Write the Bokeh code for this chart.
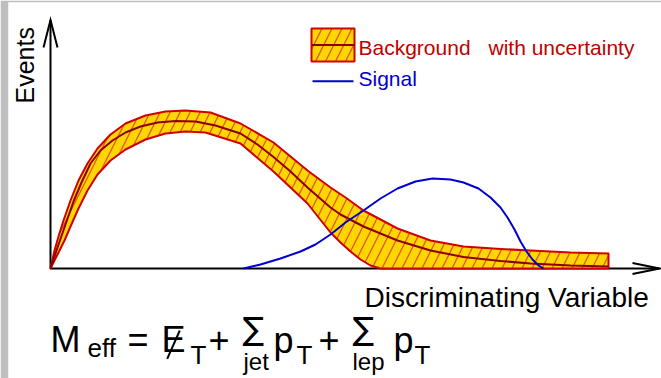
from bokeh.plotting import figure
from bokeh.models import Range1d, Label
from bokeh.embed import file_html
from bokeh.resources import INLINE

# ---- data (x: discriminating variable, y: events, arbitrary units) ----
bkg_x = [0.00, 0.07, 0.15, 0.23, 0.31, 0.40, 0.50, 0.62, 0.75, 0.90, 1.07, 1.25, 1.45,
         1.65, 1.90, 2.07, 2.23, 2.40, 2.57, 2.80, 2.90, 3.13, 3.47, 3.80, 4.13, 4.50,
         4.80, 5.20, 5.58]
bkg_y = [0.0, 2.1, 4.4, 6.7, 8.6, 10.5, 11.8, 12.8, 13.6, 14.2, 14.6, 14.75, 14.7,
         14.3, 13.5, 12.4, 11.15, 9.7, 8.1, 6.1, 5.4, 4.2, 2.8, 1.8, 1.15, 0.75,
         0.5, 0.3, 0.2]

unc_hi_x = [0.00, 0.04, 0.08, 0.13, 0.20, 0.28, 0.37, 0.47, 0.60, 0.75, 0.95, 1.15, 1.35,
            1.60, 1.90, 2.23, 2.57, 2.80, 2.95, 3.13, 3.47, 3.80, 4.13, 4.50, 4.80, 5.20, 5.58]
unc_hi_y = [0.0, 1.8, 3.2, 4.8, 6.8, 8.8, 10.5, 12.0, 13.4, 14.5, 15.3, 15.7, 15.8,
            15.6, 14.5, 12.6, 9.8, 8.1, 7.1, 5.8, 4.0, 2.8, 2.2, 1.95, 1.8, 1.6, 1.5]

unc_lo_x = [0.00, 0.09, 0.14, 0.20, 0.28, 0.37, 0.47, 0.60, 0.75, 0.95, 1.15, 1.35, 1.55,
            1.90, 2.23, 2.57, 2.80, 2.90, 3.00, 3.10, 3.20, 3.30, 5.58]
unc_lo_y = [0.0, 1.8, 2.8, 4.2, 6.0, 7.8, 9.4, 10.8, 11.9, 12.9, 13.5, 13.7, 13.6,
            12.5, 9.7, 6.5, 3.6, 2.6, 1.7, 0.9, 0.3, 0.0, 0.0]

sig_x = [1.93, 2.10, 2.30, 2.50, 2.65, 2.80, 2.95, 3.13, 3.30, 3.47, 3.65, 3.82, 4.00,
         4.13, 4.28, 4.40, 4.50, 4.57, 4.64, 4.70, 4.76, 4.82, 4.88, 4.93]
sig_y = [0.0, 0.4, 1.0, 1.7, 2.4, 3.4, 4.6, 5.8, 7.0, 8.0, 8.7, 9.0, 8.9,
         8.6, 8.0, 7.1, 6.1, 5.1, 3.9, 2.7, 1.7, 0.9, 0.3, 0.0]

# ---- page geometry ----
W, H = 661, 378
LEFT, TOP = 8, 2                  # grey margin
X0_PX, Y0_PX = 50, 268            # where the origin sits on the page
PX_PER_X, PX_PER_Y = 100.0, 10.0


def sx(px):
    return (px - X0_PX) / PX_PER_X


def sy(py):
    return (Y0_PX - py) / PX_PER_Y


p = figure(width=W, height=H,
           x_range=Range1d(sx(LEFT), sx(W)), y_range=Range1d(sy(H), sy(TOP)),
           min_border_left=LEFT, min_border_top=TOP, min_border_right=0, min_border_bottom=0,
           x_axis_location=None, y_axis_location=None,
           border_fill_color="#bfbfbf", background_fill_color="white",
           outline_line_color=None, toolbar_location=None, output_backend="svg")
p.grid.visible = False

FONT = "Liberation Sans"
BAND_FILL = "#ffd700"
BAND_EDGE = "#d00000"
HATCH = "#e8501e"
MID = "#8b0000"
BLUE = "#0000d0"
MID_SHIFT = 0.3465   # baseline -> vertical centre of the text box, in em

# ---- axes drawn as arrows ----
p.line([sx(50), sx(50)], [sy(268), sy(19.5)], line_color="black", line_width=2)
p.line([sx(43), sx(50), sx(57)], [sy(47), sy(19.5), sy(47)], line_color="black",
       line_width=2, line_join="miter")
p.line([sx(50), sx(659)], [sy(268), sy(268)], line_color="black", line_width=2)
p.line([sx(632), sx(659), sx(632)], [sy(262.5), sy(268), sy(273.5)], line_color="black",
       line_width=2, line_join="miter")

# ---- background uncertainty band ----
band_x = unc_hi_x + unc_lo_x[::-1]
band_y = unc_hi_y + unc_lo_y[::-1]
p.patch(band_x, band_y, fill_color=BAND_FILL, line_color=BAND_EDGE, line_width=2,
        line_join="round", hatch_pattern="/", hatch_color=HATCH, hatch_scale=20,
        hatch_weight=1.3)
p.line(bkg_x, bkg_y, line_color=MID, line_width=2)

# ---- signal ----
p.line(sig_x, sig_y, line_color=BLUE, line_width=2)

# ---- legend ----
p.quad(left=sx(311), right=sx(354), top=sy(28), bottom=sy(61),
       fill_color=BAND_FILL, line_color=BAND_EDGE, line_width=2,
       hatch_pattern="/", hatch_color=HATCH, hatch_scale=20, hatch_weight=1.3)
p.line([sx(311), sx(354)], [sy(44.5), sy(44.5)], line_color=MID, line_width=2)
p.line([sx(312), sx(353)], [sy(80.7), sy(80.7)], line_color=BLUE, line_width=2)


def label(txt, px, baseline, size, color="black", font=FONT):
    p.add_layout(Label(x=sx(px), y=sy(baseline - MID_SHIFT * size), text=txt,
                       text_font=font, text_font_size=f"{size}px", text_color=color,
                       text_baseline="middle", text_align="left"))


label("Background", 358, 54.3, 21, "#c00000")
label("with uncertainty", 488, 54.3, 21, "#c00000")
label("Signal", 358, 85.5, 21, BLUE)

# vertical axis title, reading upwards
p.add_layout(Label(x=sx(33 - MID_SHIFT * 25), y=sy(103), text="Events", text_font=FONT,
                   text_font_size="25px", text_color="black", angle=1.5708,
                   text_baseline="middle", text_align="left"))
label("Discriminating Variable", 364, 306.5, 28)

# ---- formula ----
label("M", 50, 351.7, 36)
label("eff", 87, 357, 26)
label("=", 127, 351.7, 36)
label("E", 161, 351.7, 36)
p.line([sx(166.7), sx(179.3)], [sy(358.3), sy(330)], line_color="black", line_width=2)
label("T", 190, 363.3, 26)
label("+", 208, 351.7, 36)
label("\u2211", 242, 340, 32, font="DejaVu Sans")
label("jet", 243, 369, 24)
label("p", 273, 352, 36)
label("T", 296, 363.3, 26)
label("+", 318, 351.7, 36)
label("\u2211", 352, 340, 32, font="DejaVu Sans")
label("lep", 352, 369, 24)
label("p", 393, 352, 36)
label("T", 414, 363.3, 26)

open("out.html", "w").write(file_html(p, INLINE))
